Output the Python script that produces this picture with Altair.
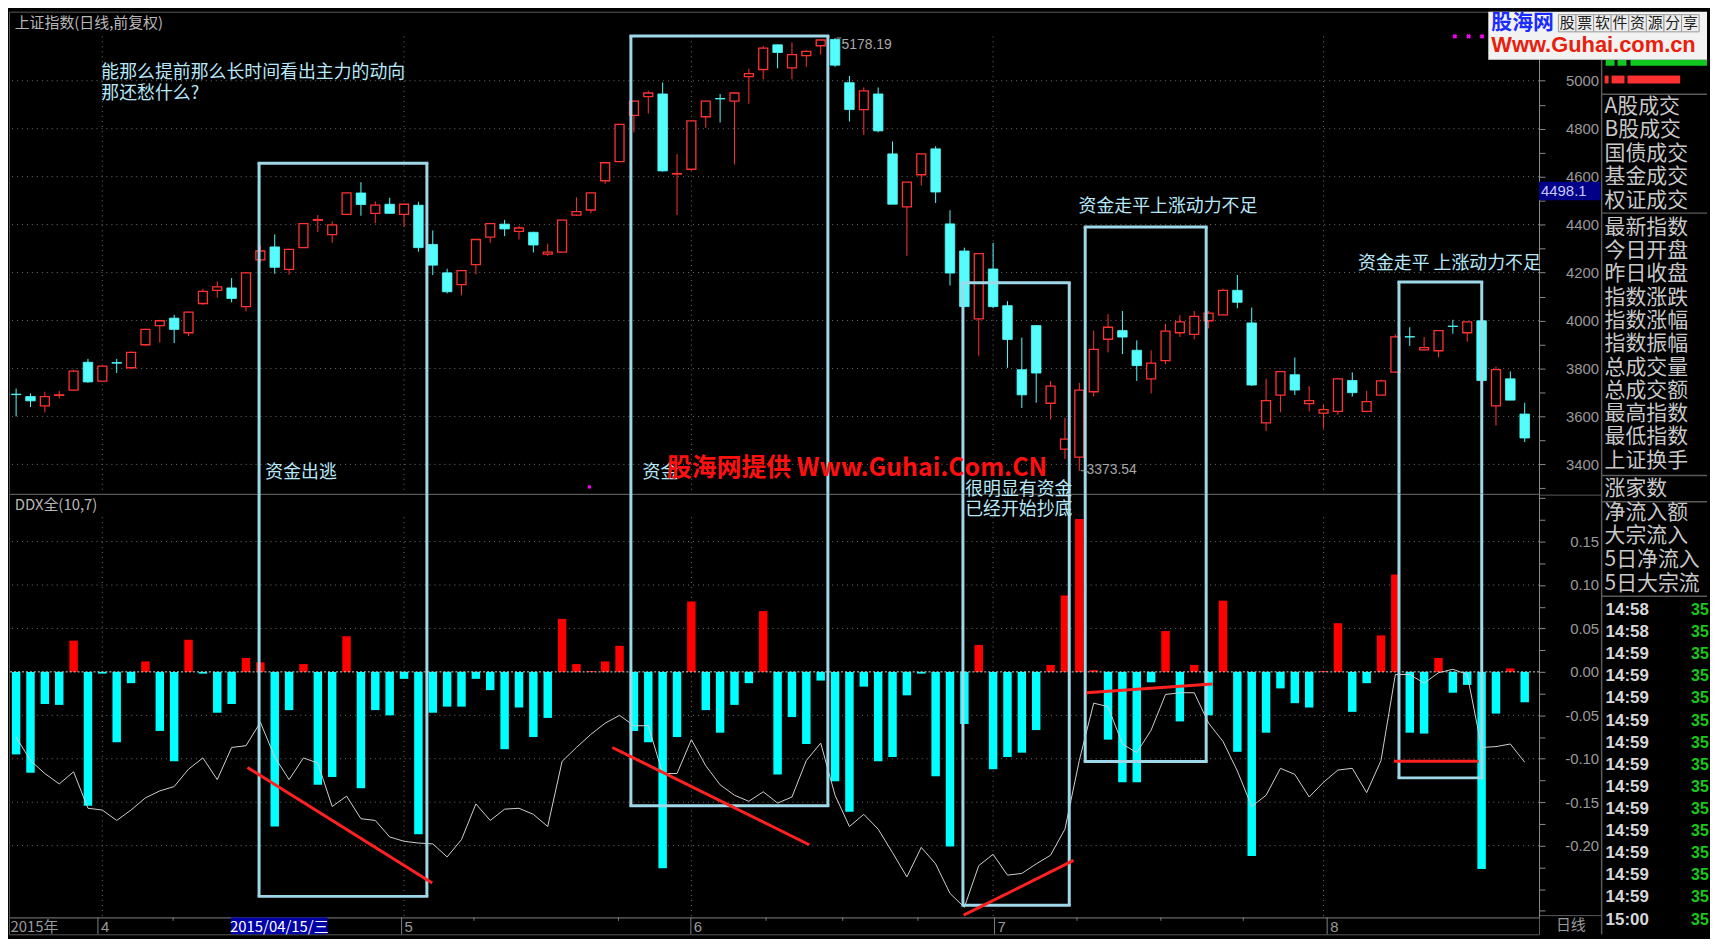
import altair as alt
import pandas as pd

# ---------------- data ----------------
opens = [3693, 3683, 3644, 3688, 3710, 3826, 3747, 3825, 3803, 3899,
         3979, 4010, 3949, 4071, 4126, 4136, 4058, 4253, 4307, 4213,
         4304, 4418, 4358, 4443, 4532, 4447, 4485, 4443, 4481, 4317,
         4199, 4150, 4233, 4348, 4402, 4372, 4368, 4277, 4285, 4440,
         4461, 4583, 4663, 4856, 4934, 4945, 4611, 4631, 4850, 4926,
         4915, 5017, 5047, 5150, 5054, 5105, 5146, 5172, 4992, 4880,
         4945, 4695, 4474, 4608, 4716, 4403, 4290, 4007, 4215, 4062,
         3795, 3979, 3655, 3464, 3430, 3703, 3922, 3958, 3876, 3757,
         3833, 3949, 3942, 3999, 4024, 4126, 3990, 3573, 3689, 3774,
         3653, 3614, 3621, 3750, 3621, 3689, 3785, 3933, 3878, 3874,
         3977, 3949, 3999, 3644, 3757, 3610]
highs = [3716, 3696, 3703, 3706, 3795, 3840, 3812, 3840, 3871, 3966,
         4003, 4024, 4038, 4133, 4163, 4177, 4202, 4313, 4359, 4300,
         4406, 4440, 4413, 4533, 4577, 4497, 4512, 4487, 4495, 4376,
         4216, 4210, 4340, 4406, 4420, 4395, 4370, 4321, 4420, 4514,
         4535, 4660, 4820, 4917, 4959, 4993, 4695, 4835, 4917, 4945,
         4951, 5050, 5146, 5151, 5160, 5127, 5172, 5178.19, 5020, 4972,
         4972, 4747, 4577, 4697, 4727, 4460, 4304, 4281, 4324, 4081,
         3929, 3980, 3748, 3594, 3740, 3958, 4027, 4040, 3917, 3876,
         3986, 4022, 4040, 4040, 4133, 4190, 4054, 3757, 3790, 3846,
         3726, 3649, 3760, 3784, 3707, 3754, 3942, 3972, 3931, 3960,
         4003, 3996, 4002, 3808, 3788, 3657]
lows = [3600, 3639, 3617, 3675, 3707, 3740, 3745, 3781, 3799, 3895,
        3908, 3906, 3935, 4065, 4095, 4076, 4038, 4242, 4195, 4191,
        4302, 4369, 4324, 4441, 4437, 4406, 4446, 4391, 4287, 4190,
        4113, 4105, 4193, 4324, 4352, 4338, 4284, 4269, 4283, 4436,
        4447, 4570, 4661, 4785, 4863, 4621, 4440, 4624, 4804, 4826,
        4651, 4904, 5006, 5052, 5006, 5058, 5109, 5058, 4830, 4774,
        4785, 4485, 4270, 4563, 4490, 4146, 4058, 3853, 4051, 3803,
        3635, 3657, 3587, 3423, 3373.54, 3683, 3867, 3860, 3748, 3696,
        3819, 3931, 3921, 3967, 4024, 4051, 3727, 3539, 3617, 3689,
        3621, 3550, 3607, 3683, 3617, 3689, 3781, 3894, 3874, 3847,
        3945, 3912, 3748, 3562, 3668, 3493]
closes = [3691, 3665, 3683, 3690, 3789, 3744, 3810, 3822, 3867, 3963,
          3999, 3963, 4035, 4122, 4140, 4092, 4199, 4290, 4222, 4297,
          4404, 4421, 4399, 4532, 4484, 4481, 4447, 4485, 4304, 4231,
          4120, 4208, 4338, 4404, 4382, 4386, 4315, 4285, 4419, 4454,
          4532, 4658, 4818, 4915, 4949, 4624, 4613, 4833, 4915, 4924,
          4949, 5030, 5136, 5118, 5109, 5123, 5170, 5065, 4880, 4958,
          4791, 4485, 4577, 4695, 4536, 4198, 4058, 4279, 4058, 3921,
          3690, 3781, 3726, 3505, 3710, 3880, 3972, 3931, 3812, 3822,
          3956, 3994, 4017, 4031, 4126, 4076, 3731, 3666, 3787, 3710,
          3666, 3628, 3757, 3699, 3662, 3748, 3932, 3931, 3887, 3958,
          3975, 3994, 3750, 3795, 3668, 3510]

ddx = [-0.095, -0.116, -0.037, -0.038, 0.036, -0.154, -0.002, -0.081, -0.013, 0.012,
       -0.068, -0.103, 0.037, -0.002, -0.047, -0.037, 0.016, 0.011, -0.178, -0.044,
       0.009, -0.130, -0.121, 0.041, -0.134, -0.044, -0.050, -0.008, -0.187, -0.047,
       -0.040, -0.040, -0.008, -0.021, -0.089, -0.041, -0.075, -0.053, 0.061, 0.009,
       0.001, 0.012, 0.030, -0.068, -0.081, -0.226, -0.075, 0.081, -0.044, -0.070,
       -0.038, -0.013, 0.070, -0.118, -0.052, -0.083, -0.010, -0.126, -0.161, -0.017,
       -0.103, -0.098, -0.027, -0.002, -0.120, -0.201, -0.060, 0.031, -0.112, -0.098,
       -0.093, -0.067, 0.008, 0.088, 0.176, 0.002, -0.078, -0.127, -0.127, -0.012,
       0.047, -0.057, 0.008, -0.050, 0.082, -0.092, -0.212, -0.070, -0.019, -0.036,
       -0.041, 0.001, 0.056, -0.046, -0.013, 0.042, 0.112, -0.070, -0.071, 0.016,
       -0.024, -0.015, -0.227, -0.048, 0.004, -0.035]
ddx_ma = [-0.075, -0.102, -0.117, -0.129, -0.115, -0.157, -0.159, -0.171, -0.159, -0.145,
          -0.137, -0.132, -0.112, -0.099, -0.124, -0.087, -0.085, -0.058, -0.098, -0.124,
          -0.099, -0.105, -0.155, -0.143, -0.169, -0.171, -0.190, -0.195, -0.197, -0.198,
          -0.213, -0.193, -0.152, -0.171, -0.158, -0.157, -0.164, -0.178, -0.103, -0.087,
          -0.072, -0.059, -0.050, -0.062, -0.062, -0.117, -0.117, -0.078, -0.108, -0.130,
          -0.142, -0.149, -0.138, -0.151, -0.144, -0.102, -0.082, -0.142, -0.178, -0.164,
          -0.181, -0.208, -0.236, -0.202, -0.221, -0.255, -0.271, -0.223, -0.210, -0.234,
          -0.232, -0.221, -0.211, -0.181, -0.102, -0.036, -0.040, -0.083, -0.093, -0.067,
          -0.026, -0.024, -0.024, -0.059, -0.080, -0.114, -0.155, -0.142, -0.111, -0.118,
          -0.144, -0.127, -0.113, -0.111, -0.139, -0.102, -0.003, -0.003, -0.013, -0.001,
          0.003, -0.003, -0.087, -0.086, -0.083, -0.104]

month_idx = [6, 27, 47, 68, 91]
month_lbl = ["4", "5", "6", "7", "8"]
minor_idx = [11.2, 32.0, 42.0, 52.2, 57.5, 62.7, 73.7, 79.5, 85.2]
price_grid = [3400, 3600, 3800, 4000, 4200, 4400, 4600, 4800, 5000]
ddx_grid = [0.15, 0.10, 0.05, -0.05, -0.10, -0.15, -0.20]

box_left = [16.91, 42.79, 65.90, 74.41, 96.25]
box_right = [28.59, 56.50, 73.30, 82.83, 102.01]
box_top = [4656, 5187, 4158, 4390, 4161]
box_bottom = [-0.2584, -0.1542, -0.2686, -0.1031, -0.1220]

trend_x0 = [16.1, 41.5, 65.95, 74.5, 95.9]
trend_x1 = [28.96, 55.2, 73.6, 83.25, 101.8]
trend_y0 = [-0.110, -0.087, -0.280, -0.024, -0.103]
trend_y1 = [-0.243, -0.199, -0.217, -0.014, -0.103]

top_notes = ["能那么提前那么长时间看出主力的动向", "那还愁什么?", "资金出逃", "资金",
             "资金走平上涨动力不足", "资金走平 上涨动力不足"]
top_notes_x = [5.93, 5.93, 17.34, 43.6, 73.95, 93.4]
top_notes_y = [5034, 4944, 3363, 3363, 4473, 4236]
low_notes = ["很明显有资金", "已经开始抄底"]
low_notes_x = [66.06, 66.06]
low_notes_y = [0.2094, 0.1867]

info_group1 = ["A股成交", "B股成交", "国债成交", "基金成交", "权证成交"]
info_group2 = ["最新指数", "今日开盘", "昨日收盘", "指数涨跌", "指数涨幅", "指数振幅",
               "总成交量", "总成交额", "最高指数", "最低指数", "上证换手"]
info_group3 = ["涨家数"]
info_group4 = ["净流入额", "大宗流入", "5日净流入额", "5日大宗流入"]
tick_times = ["14:58", "14:58"] + ["14:59"] * 12 + ["15:00"]
logo_chars = list("股票软件资源分享")

# ---------------- styling / layout ----------------
XMIN, XMAX = -0.15, 105.65
PMIN, PMAX = 3277, 5288
VMIN, VMAX = -0.2826, 0.2049
W, H1, H2, H3 = 1539, 485, 426, 17
KY = (H1 + H2 + H3) / 939.0
RED = "#ff3232"
CYAN = "#54fcfc"
BOXC = "#9fd8e8"
TXT = "#b8e8f8"
GRID = "#707070"
FRAME = "#5a5a5a"
LBL = "#9a9a9a"
CJK = "Noto Sans CJK SC"
NUM = "Liberation Sans"

XS = alt.Scale(domain=[XMIN, XMAX], nice=False, zero=False)
PS = alt.Scale(domain=[PMIN, PMAX], nice=False, zero=False)
VS = alt.Scale(domain=[VMIN, VMAX], nice=False, zero=False)

P_AXIS = alt.Axis(orient="right", values=list(range(3300, 5300, 100)),
                  labelExpr="datum.value % 200 == 0 ? '' + datum.value : ''",
                  title=None, grid=False, tickSize=6, labelPadding=54, labelAlign="right",
                  labelBaseline="middle", labelColor=LBL, labelFont=NUM, labelFontSize=15,
                  domainColor="#8a8a8a", tickColor="#8a8a8a", labelOverlap=False, labelFlush=False)
V_AXIS = alt.Axis(orient="right", values=[round(-0.275 + 0.025 * k, 3) for k in range(20)],
                  labelExpr="(abs(round(datum.value*1000)) % 50 == 0 && datum.value < 0.16 && datum.value > -0.21) ? ((datum.value < -0.001 ? '-' : '') + format(abs(datum.value), '.2f')) : ''",
                  title=None, grid=False, tickSize=6, labelPadding=54, labelAlign="right",
                  labelBaseline="middle", labelColor=LBL, labelFont=NUM, labelFontSize=15,
                  domainColor="#8a8a8a", tickColor="#8a8a8a", labelOverlap=False, labelFlush=False)


def xq(f):
    return alt.X(f, type="quantitative", scale=XS, axis=None)


def yp(f):
    return alt.Y(f, type="quantitative", scale=PS, axis=P_AXIS)


def yv(f):
    return alt.Y(f, type="quantitative", scale=VS, axis=V_AXIS)


N = len(opens)
idx = list(range(N))

# ---------------- top panel: candles ----------------
cdf = pd.DataFrame({"i": idx, "o": opens, "h": highs, "l": lows, "c": closes})
cdf["up"] = cdf["c"] >= cdf["o"]
cdf["b0"] = cdf[["o", "c"]].min(axis=1)
cdf["b1"] = cdf[["o", "c"]].max(axis=1)
cbase = alt.Chart(cdf)

pgrid = alt.Chart(pd.DataFrame({"p": price_grid})).mark_rule(
    color=GRID, strokeDash=[1, 4], strokeWidth=1).encode(y=yp("p"))
vgrid_top = alt.Chart(pd.DataFrame({"m": month_idx, "y0": 5185, "y1": PMIN})).mark_rule(
    color=GRID, strokeDash=[1, 4], strokeWidth=1).encode(x=xq("m"), y=yp("y0"), y2="y1")

wick_up = cbase.transform_filter("datum.up").mark_rule(color=RED, strokeWidth=1).encode(
    x=xq("i"), y=yp("l"), y2="h")
wick_dn = cbase.transform_filter("!datum.up").mark_rule(color=CYAN, strokeWidth=1).encode(
    x=xq("i"), y=yp("l"), y2="h")
body_up = cbase.transform_filter("datum.up").mark_bar(
    size=9, fill="black", stroke=RED, strokeWidth=1.3).encode(x=xq("i"), y=yp("b0"), y2="b1")
body_dn = cbase.transform_filter("!datum.up").mark_bar(
    size=9.6, fill=CYAN, stroke=CYAN, strokeWidth=0.8).encode(x=xq("i"), y=yp("b0"), y2="b1")

bdf = pd.DataFrame({"x0": box_left, "x1": box_right, "top": box_top, "bot": box_bottom,
                    "pmin": PMIN, "vmax": VMAX})
bbase = alt.Chart(bdf)
box_t = bbase.mark_rule(color=BOXC, strokeWidth=3, strokeCap="square").encode(
    x=xq("x0"), x2="x1", y=yp("top"))
box_tl = bbase.mark_rule(color=BOXC, strokeWidth=3).encode(x=xq("x0"), y=yp("top"), y2="pmin")
box_tr = bbase.mark_rule(color=BOXC, strokeWidth=3).encode(x=xq("x1"), y=yp("top"), y2="pmin")

ndf = pd.DataFrame({"t": top_notes, "x": top_notes_x, "y": top_notes_y})
notes_top = alt.Chart(ndf).mark_text(align="left", baseline="middle", font=CJK, fontSize=18,
                                     color=TXT).encode(x=xq("x"), y=yp("y"), text="t:N")

title_df = pd.DataFrame({"t": ["上证指数(日线,前复权)"], "x": [-0.1], "y": [5239]})
title_top = alt.Chart(title_df).mark_text(align="left", baseline="middle", font=CJK, fontSize=15,
                                          color="#b8b8b8").encode(x=xq("x"), y=yp("y"), text="t:N")

wm_df = pd.DataFrame({"t": ["股海网提供 Www.Guhai.Com.CN"], "x": [45.3], "y": [3384]})
watermark = alt.Chart(wm_df).mark_text(align="left", baseline="middle", font=CJK, fontSize=25,
                                       fontWeight="bold", color="#ff1010").encode(
    x=xq("x"), y=yp("y"), text="t:N")

ext_df = pd.DataFrame({"t": ["5178.19", "3373.54"], "x": [57.45, 74.5], "y": [5150, 3376],
                       "rx0": [57.1, 74.1], "rx1": [57.42, 74.47], "ry": [5178.19, 3373.54]})
ext_txt = alt.Chart(ext_df).mark_text(align="left", baseline="middle", font=NUM, fontSize=14,
                                      color="#a8a8a8").encode(x=xq("x"), y=yp("y"), text="t:N")
ext_rule = alt.Chart(ext_df).mark_rule(color="#a8a8a8", strokeWidth=1).encode(
    x=xq("rx0"), x2="rx1", y=yp("ry"))

mag_df = pd.DataFrame({"x": [100.14, 101.1, 102.03], "y": [5185, 5185, 5185]})
magenta = alt.Chart(mag_df).mark_point(shape="cross", angle=45, filled=True, size=22,
                                       color="#ff00ff", opacity=1).encode(x=xq("x"), y=yp("y"))
dot_df = pd.DataFrame({"x": [39.9], "y": [3306]})
mag_dot = alt.Chart(dot_df).mark_square(size=10, color="#ff00ff", opacity=1).encode(
    x=xq("x"), y=yp("y"))

top_main = alt.layer(pgrid, vgrid_top, wick_up, wick_dn, body_up, body_dn, box_t, box_tl, box_tr,
                     notes_top, title_top, ext_rule, ext_txt, magenta, mag_dot, watermark)

# ---------------- right info panel (own scales, in reference pixel units) ----------------
IXS = alt.Scale(domain=[8, 8 + W], nice=False, zero=False)
IYS = alt.Scale(domain=[8, 8 + H1 / KY], nice=False, zero=False, reverse=True)


def xi(f):
    return alt.X(f, type="quantitative", scale=IXS, axis=None)


def yi(f):
    return alt.Y(f, type="quantitative", scale=IYS, axis=None)


rows_t, rows_y = [], []
for k, s in enumerate(info_group1):
    rows_t.append(s); rows_y.append(105 + 23.8 * k)
for k, s in enumerate(info_group2):
    rows_t.append(s); rows_y.append(228 + 23.7 * k)
for k, s in enumerate(info_group3):
    rows_t.append(s); rows_y.append(494 + 24 * k)
for k, s in enumerate(info_group4):
    rows_t.append(s); rows_y.append(518 + 24 * k)
rows_df = pd.DataFrame({"t": rows_t, "y": rows_y, "x": 1613})
tm_df = pd.DataFrame({"t": tick_times, "y": [617 + 22.5 * k for k in range(len(tick_times))],
                      "x": 1614, "x2": 1700, "g": "35"})

border = alt.Chart(pd.DataFrame({"x": [1610], "y0": [57], "y1": [947]})).mark_rule(
    color=FRAME, strokeWidth=1.5).encode(x=xi("x"), y=yi("y0"), y2="y1")
seps = alt.Chart(pd.DataFrame({"y": [92, 213, 480, 506.7, 603], "x0": 1610, "x1": 1716})).mark_rule(
    color=FRAME, strokeWidth=1.5).encode(x=xi("x0"), x2="x1", y=yi("y"))
ext = alt.Chart(pd.DataFrame({"y": [500, 928], "x0": 1547, "x1": 1610})).mark_rule(
    color=FRAME, strokeWidth=1).encode(x=xi("x0"), x2="x1", y=yi("y"))
logo_bg = alt.Chart(pd.DataFrame({"x0": [1496], "x1": [1716], "y0": [8], "y1": [57]})).mark_rect(
    color="#f2f2f2").encode(x=xi("x0"), x2="x1", y=yi("y0"), y2="y1")
logo_a = alt.Chart(pd.DataFrame({"t": ["股海网"], "x": [1499], "y": [20]})).mark_text(
    align="left", baseline="middle", font=CJK, fontSize=21, fontWeight="bold",
    color="#1a2cff").encode(x=xi("x"), y=yi("y"), text="t:N")
lc_df = pd.DataFrame({"t": logo_chars,
                      "x0": [1566.5 + 17.7 * k for k in range(len(logo_chars))]})
lc_df["x1"] = lc_df["x0"] + 17.7
lc_df["xc"] = lc_df["x0"] + 8.85
lc_df["y0"] = 11.0
lc_df["y1"] = 28.5
lc_df["yc"] = 19.8
logo_boxes = alt.Chart(lc_df).mark_rect(fill="#ececec", stroke="#9a9a9a", strokeWidth=1).encode(
    x=xi("x0"), x2="x1", y=yi("y0"), y2="y1")
logo_chars_m = alt.Chart(lc_df).mark_text(align="center", baseline="middle", font=CJK, fontSize=15,
                                          color="#202020").encode(x=xi("xc"), y=yi("yc"), text="t:N")
logo_b = alt.Chart(pd.DataFrame({"t": ["Www.Guhai.com.cn"], "x": [1499], "y": [42]})).mark_text(
    align="left", baseline="middle", font=NUM, fontSize=22, fontWeight="bold",
    color="#e8200c").encode(x=xi("x"), y=yi("y"), text="t:N")
green = alt.Chart(pd.DataFrame({"x0": [1614, 1626, 1639], "x1": [1623, 1635, 1716],
                                "y0": 57, "y1": 63})).mark_rect(color="#10c820").encode(
    x=xi("x0"), x2="x1", y=yi("y0"), y2="y1")
redb = alt.Chart(pd.DataFrame({"x0": [1613, 1620, 1636], "x1": [1617, 1633, 1689],
                               "y0": 73, "y1": 81})).mark_rect(color="#ff3030").encode(
    x=xi("x0"), x2="x1", y=yi("y0"), y2="y1")
rows = alt.Chart(rows_df).mark_text(align="left", baseline="middle", font=CJK, fontSize=21,
                                    color="#c8c8c8", limit=103, ellipsis=" ").encode(
    x=xi("x"), y=yi("y"), text="t:N")
times = alt.Chart(tm_df).mark_text(align="left", baseline="middle", font=NUM, fontSize=17,
                                   fontWeight="bold", color="#d8d8d8").encode(
    x=xi("x"), y=yi("y"), text="t:N")
greens = alt.Chart(tm_df).mark_text(align="left", baseline="middle", font=NUM, fontSize=16,
                                    fontWeight="bold", color="#18c818").encode(
    x=xi("x2"), y=yi("y"), text="g:N")
cur_df = pd.DataFrame({"x0": [1547], "x1": [1609], "y0": [181], "y1": [200], "xt": [1549],
                       "yt": [190.5], "t": ["4498.1"]})
cur_rect = alt.Chart(cur_df).mark_rect(color="#000088").encode(
    x=xi("x0"), x2="x1", y=yi("y0"), y2="y1")
cur_txt = alt.Chart(cur_df).mark_text(align="left", baseline="middle", font=NUM, fontSize=15,
                                      color="#c8c8ff").encode(x=xi("xt"), y=yi("yt"), text="t:N")
rx = alt.Chart(pd.DataFrame({"t": ["日线"], "x": [1564], "y": [938]})).mark_text(
    align="left", baseline="middle", font=CJK, fontSize=15, color=LBL).encode(
    x=xi("x"), y=yi("y"), text="t:N")

info = alt.layer(border, seps, ext, green, redb, logo_bg, logo_boxes, logo_chars_m, logo_a, logo_b,
                 rows, times, greens, cur_rect, cur_txt, rx)

top = alt.layer(top_main, info).resolve_scale(x="independent", y="independent").properties(
    width=W, height=H1)

# ---------------- bottom panel: DDX ----------------
ddf = pd.DataFrame({"i": idx, "v": ddx, "z": 0.0, "m": ddx_ma})
hgrid = alt.Chart(pd.DataFrame({"g": ddx_grid})).mark_rule(
    color=GRID, strokeDash=[1, 4], strokeWidth=1).encode(y=yv("g"))
vgrid_bot = alt.Chart(pd.DataFrame({"m": month_idx, "y0": 0.178, "y1": VMIN})).mark_rule(
    color=GRID, strokeDash=[1, 4], strokeWidth=1).encode(x=xq("m"), y=yv("y0"), y2="y1")
bars = alt.Chart(ddf).mark_bar(size=8.5).encode(
    x=xq("i"), y=yv("v"), y2="z",
    color=alt.condition("datum.v >= 0", alt.value("#ff0000"), alt.value("#00ffff")))
zero = alt.Chart(pd.DataFrame({"z": [0.0]})).mark_rule(
    color="#d8d8d8", strokeDash=[2, 2], strokeWidth=1).encode(y=yv("z"))
ma_line = alt.Chart(ddf).mark_line(color="#cfcfcf", strokeWidth=1).encode(x=xq("i"), y=yv("m"))
box_b = bbase.mark_rule(color=BOXC, strokeWidth=3, strokeCap="square").encode(
    x=xq("x0"), x2="x1", y=yv("bot"))
box_bl = bbase.mark_rule(color=BOXC, strokeWidth=3).encode(x=xq("x0"), y=yv("vmax"), y2="bot")
box_br = bbase.mark_rule(color=BOXC, strokeWidth=3).encode(x=xq("x1"), y=yv("vmax"), y2="bot")
tdf = pd.DataFrame({"x0": trend_x0, "x1": trend_x1, "y0": trend_y0, "y1": trend_y1})
trends = alt.Chart(tdf).mark_rule(color="#ff2020", strokeWidth=3).encode(
    x=xq("x0"), x2="x1", y=yv("y0"), y2="y1")
ldf = pd.DataFrame({"t": low_notes, "x": low_notes_x, "y": low_notes_y})
notes_low = alt.Chart(ldf).mark_text(align="left", baseline="middle", font=CJK, fontSize=18,
                                     color=TXT).encode(x=xq("x"), y=yv("y"), text="t:N")
ddx_title = alt.Chart(pd.DataFrame({"t": ["DDX全(10,7)"], "x": [-0.1], "y": [0.192]})).mark_text(
    align="left", baseline="middle", font=CJK, fontSize=15, color="#b8b8b8").encode(
    x=xq("x"), y=yv("y"), text="t:N")

bottom = alt.layer(hgrid, vgrid_bot, bars, zero, ma_line, box_b, box_bl, box_br, trends,
                   notes_low, ddx_title).properties(width=W, height=H2)

# ---------------- date axis row ----------------
AS = alt.Scale(domain=[0, 1], nice=False, zero=False)


def ya(f):
    return alt.Y(f, type="quantitative", scale=AS, axis=None)


mdf = pd.DataFrame({"m": month_idx, "lbl": month_lbl, "y0": 0.0, "y1": 1.0, "ym": 0.45})
mticks = alt.Chart(mdf).mark_rule(color="#808080").encode(x=xq("m"), y=ya("y0"), y2="y1")
mlabels = alt.Chart(mdf).mark_text(align="left", baseline="middle", dx=3, font=NUM, fontSize=15,
                                   color=LBL).encode(x=xq("m"), y=ya("ym"), text="lbl:N")
mn_df = pd.DataFrame({"m": minor_idx, "y0": 1.0, "y1": 0.8})
minor = alt.Chart(mn_df).mark_rule(color="#808080").encode(x=xq("m"), y=ya("y0"), y2="y1")
yr_df = pd.DataFrame({"t": ["2015年"], "x": [-0.05], "y": [0.45]})
yr = alt.Chart(yr_df).mark_text(align="left", baseline="middle", font=CJK, fontSize=15,
                                color=LBL).encode(x=xq("x"), y=ya("y"), text="t:N")
hl_df = pd.DataFrame({"x0": [15.21], "x1": [21.87], "y0": [0.0], "y1": [1.0], "xc": [18.54],
                      "yc": [0.45], "t": ["2015/04/15/三"]})
hl_rect = alt.Chart(hl_df).mark_rect(color="#0000a8").encode(x=xq("x0"), x2="x1", y=ya("y0"), y2="y1")
hl_txt = alt.Chart(hl_df).mark_text(align="center", baseline="middle", font=CJK, fontSize=15,
                                    color="#ffffff").encode(x=xq("xc"), y=ya("yc"), text="t:N")
axisrow = alt.layer(mticks, minor, mlabels, yr, hl_rect, hl_txt).properties(width=W, height=H3)

chart = alt.vconcat(top, bottom, axisrow, spacing=0, bounds="flush").properties(
    background="black", padding=0).configure_view(stroke=FRAME, strokeWidth=1)

chart.save("out.html", embed_options={"renderer": "svg", "actions": False})
